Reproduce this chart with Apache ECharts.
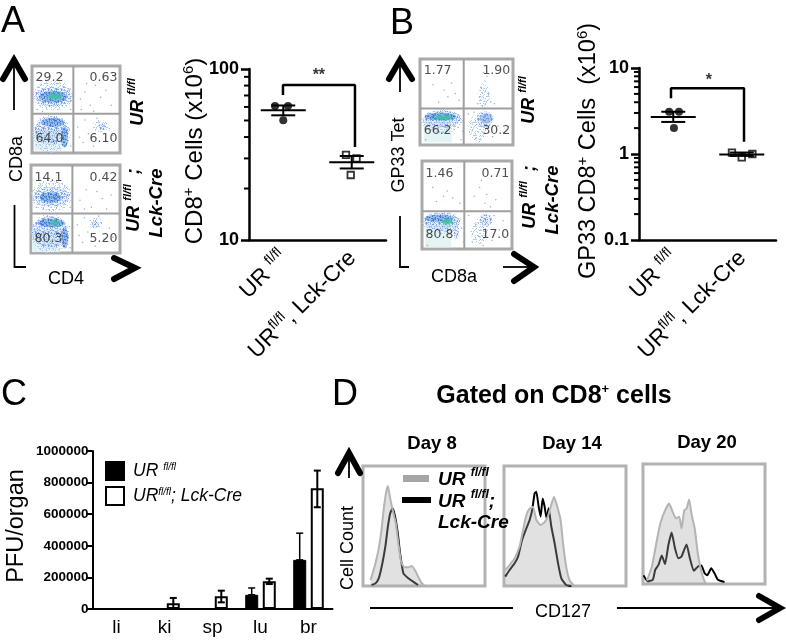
<!DOCTYPE html>
<html><head><meta charset="utf-8">
<style>html,body{margin:0;padding:0;background:#fff}#c{width:786px;height:640px}</style>
<script src="https://cdn.jsdelivr.net/npm/echarts@6/dist/echarts.min.js"></script>
</head><body><div id="c"></div>
<script>
// ---------- Panel A / B dot plots ----------
const genotypes = ['UR fl/fl', 'URfl/fl, Lck-Cre'];
const cd8Wt = [[0.38, 60.8], [0.57, 60.8], [0.5, 50.2]];
const cd8Ko = [[1.416, 31.5], [1.57, 30.0], [1.485, 24.0]];
const cd8Summary = [[0.5, 57.4, 53.6, 61.2], [1.5, 28.5, 26.2, 31.0]];
const cd8Bracket = [[0.496, 70.5], [0.496, 80.6], [1.547, 80.6], [1.547, 35]];
const cd8Ticks = [20, 30, 40, 50, 60, 70, 80, 90];
const gp33Wt = [[0.44, 3.1], [0.584, 3.1], [0.51, 2.0]];
const gp33Ko = [[1.357, 1.035], [1.5, 0.915], [1.655, 1.0]];
const gp33Summary = [[0.5, 2.7, 2.36, 3.1], [1.5, 0.99, 0.95, 1.04]];
const gp33Bracket = [[0.467, 4.44], [0.467, 5.8], [1.533, 5.8], [1.533, 1.39]];
const gp33Ticks = [0.2, 0.3, 0.4, 0.5, 0.6, 0.7, 0.8, 0.9, 2, 3, 4, 5, 6, 7, 8, 9];
// ---------- Panel C bars ----------
const organs = ['li', 'ki', 'sp', 'lu', 'br'];
const pfuWt = [0, 0, 0, 90000, 311000];
const pfuKo = [0, 36000, 80000, 175000, 764000];
const pfuWtErr = [[3, 90000, 133000], [4, 311000, 480000]];
const pfuKoErr = [[1, 0, 70000], [2, 42000, 116000], [3, 158000, 192000], [4, 644000, 876000]];
const pfuTicks = [0, 200000, 400000, 600000, 800000, 1000000];
// ---------- Panel D histograms ----------
const day8Wt = [[6.2,5],[7.5,9.2],[10.2,18.9],[12.9,31.4],[15,45.3],[16.9,63.3],[18.8,77.2],[20.4,83.3],[21.8,75.8],[23.7,66.1],[26.9,52.2],[29,35.6],[31.2,20.3],[33.9,15.6],[37.1,15.6],[39.8,16.7],[42.5,13.3],[45.2,7.8],[47.8,2.8],[50.5,0]];
const day8Ko = [[7,0.8],[10.2,2.2],[12.9,6.4],[15.6,17.5],[18.3,32.8],[20.4,49.4],[22.3,60.6],[24.2,64.7],[26.3,57.8],[28.5,44],[30.4,27.2],[33.1,10.6],[37.1,6.4],[41.1,3.6],[45.2,0.8]];
const day14Wt = [[1.1,13.3],[4.6,17.5],[8.7,23],[12.8,33],[15.6,46.7],[18.3,59],[21,64.4],[23.8,66.1],[26.5,55],[30,50.8],[33.3,53.3],[36,58],[38.3,66.1],[41,74.4],[43.7,66.1],[46.4,55],[48.4,35.6],[51,16],[53.7,5],[57.4,0]];
const day14Ko = [[1.1,7.8],[4.6,13.3],[8.7,18.9],[11.5,24.4],[14.8,38.3],[18.3,48],[21,55],[23.2,63.9],[25.1,77.2],[26.5,78.6],[28.4,66.1],[30,57.8],[31.7,73],[33.3,66.1],[34.9,56.4],[36.6,64.7],[38.8,49.4],[41.5,35.6],[44.3,18.9],[47,6.4],[51,0.8],[55.2,0]];
const day20Wt = [[3.2,2.8],[7.3,14.6],[11.9,39.4],[14.6,51.8],[18.1,61.4],[21.4,67],[24.9,58.7],[27,54.6],[29.7,56],[31.6,46.3],[33.8,61.4],[35.7,62.8],[37.8,70.5],[39.7,58.7],[42.4,46.3],[45.1,24.2],[47.8,10.5],[50.5,2.2],[52.4,0]];
const day20Ko = [[0.5,7.2],[3.8,2.2],[8.1,3.6],[10,11.8],[12.7,16],[15.4,23.7],[18.1,16.5],[20.8,32.5],[23.5,43],[26.2,29.8],[29,21.5],[31.6,22.9],[35.7,33],[38.4,21.5],[41.6,11],[45.1,14.6],[47.8,15.4],[50.5,9],[52.7,7.2],[55.9,13.2],[58.6,9],[61.4,3.6],[66.8,1.7]];
// ---------- Flow plots: populations [x, y, spreadX, spreadY, density]
// density: 0 pale gate patch, 1 scattered halo, 2 moderate, 3 dense, 4 peak
const flowA1Labels = ['29.2', '0.63', '64.0', '6.10'];
const flowA2Labels = ['14.1', '0.42', '80.3', '5.20'];
const flowB1Labels = ['1.77', '1.90', '66.2', '30.2'];
const flowB2Labels = ['1.46', '0.71', '80.8', '17.0'];
const flowA1Gate = [47, 45];
const flowA2Gate = [46.5, 45];
const flowB1Gate = [47, 42.5];
const flowB2Gate = [47, 43];
const flowA1Blobs = [[18,15,31,24,0],[24,66,46,34,1],[24,64.5,42,22,2],[24,64.5,32,13,3],[26,65,15,5,4],[22,22,44,44,1],[22,26,38,32,2],[24,35,26,10,3],[37,18,8,24,3],[78,31,18,14,1],[80,30,9,7,2]];
const flowA2Blobs = [[17,14,32,26,0],[23,65,46,36,1],[23,64,40,22,2],[22,63,24,12,3],[21,22,44,44,1],[21,24,40,36,2],[23,34,30,10,3],[27,34,11,4,4],[38,17,8,24,3],[73,34,16,12,1],[72,32,8,8,2]];
const flowB1Blobs = [[19,15,30,24,0],[24,28,44,28,1],[24,30,40,20,2],[22,33,34,9,3],[25.5,32,20,4,4],[71,31,13,12,3],[62,20,20,30,1],[70,30,18,18,2],[69,57,12,30,1]];
const flowB2Blobs = [[18,15,29,26,0],[22,30,44,26,1],[22,31,40,20,2],[19,35,32,8,3],[28,31,12,5,4],[38,20,6,18,2],[71,33,14,14,2],[64,20,20,28,1]];
const flowA1Dots = [[6,50],[10,78],[28,80],[36,76],[42,73],[44,60],[44,50],[12,48],[55,62],[60,70],[66,55],[72,78],[78,64],[84,72],[56,50],[90,55],[62,80],[70,48],[52,30],[58,12],[64,22],[70,8],[84,14],[88,28],[92,20],[74,40],[60,38],[54,18],[44,8],[42,28]];
const flowA2Dots = [[6,52],[10,76],[30,80],[38,76],[43,66],[44,52],[14,50],[55,60],[62,72],[68,52],[74,70],[80,62],[85,50],[60,50],[90,66],[52,32],[58,12],[64,24],[72,8],[82,16],[88,28],[92,18],[76,42],[60,40],[54,20],[44,6],[43,30]];
const flowB1Dots = [[20,50],[30,56],[38,60],[14,70],[42,52],[26,64],[34,72],[62,48],[66,66],[70,74],[72,80],[68,84],[74,60],[76,50],[64,56],[80,48],[60,8],[56,26],[64,4],[78,10],[84,22],[90,14],[46,16],[44,6],[6,6],[52,36],[58,38]];
const flowB2Dots = [[16,54],[24,60],[34,58],[42,52],[12,70],[28,66],[58,60],[64,70],[70,52],[72,62],[66,78],[76,48],[82,56],[56,8],[60,28],[64,14],[68,4],[78,10],[86,22],[92,14],[90,32],[46,8],[44,24],[6,4],[52,38],[80,38]];

const FF = 'Liberation Sans';
const grids = [], xAxes = [], yAxes = [], series = [];

// stipple tiles for the flow-cytometry dots
const speck = [[1,2],[4,0],[7,3],[10,1],[12,5],[2,6],[5,5],[8,7],[11,9],[0,9],[3,10],[6,9],[9,11],[12,12],[4,12]];
function tile(bg, layers) {
  const cv = document.createElement('canvas'); cv.width = cv.height = 13;
  const ctx = cv.getContext('2d');
  if (bg) { ctx.fillStyle = bg; ctx.fillRect(0, 0, 13, 13); }
  layers.forEach(l => {
    ctx.fillStyle = l[0];
    speck.forEach(p => ctx.fillRect((p[0] + l[1]) % 13, (p[1] + l[2]) % 13, 1, 1));
  });
  return { image: cv, repeat: 'repeat' };
}
const flowFill = [
  '#e4f4f5',
  tile(null, [['#a4bdf0', 0, 0], ['#c3d3f4', 3, 5], ['#b4c9f2', 8, 9]]),
  tile('rgba(190,212,245,0.35)', [['#8fb0ec', 0, 0], ['#a8c6f0', 3, 5], ['#6f96e2', 6, 2], ['#bcd3f3', 9, 8], ['#7ea4e8', 5, 11], ['#9dbdef', 11, 6]]),
  tile('rgba(95,140,225,0.55)', [['#3f74d6', 0, 0], ['#5d8fdf', 3, 5], ['#3f74d6', 6, 2], ['#7fb0e8', 9, 8], ['#4c86d8', 2, 10], ['#5aa0d8', 7, 6], ['#3f74d6', 11, 3], ['#4aa8c8', 4, 8]]),
  '#3fbfa4'
];

function addGrid(left, top, width, height, extra) {
  grids.push(Object.assign({ left, top, width, height, containLabel: false }, extra || {}));
  return grids.length - 1;
}
function flowPlot(box, blobs, dots, gate, labels) {
  const g = addGrid(box[0], box[1], box[2], box[3], { show: true, borderColor: '#a9a9a9', borderWidth: 3, backgroundColor: '#fff' });
  const axis = { gridIndex: g, type: 'value', min: 0, max: 100, show: false };
  const xi = xAxes.push(axis) - 1, yi = yAxes.push(Object.assign({}, axis)) - 1;
  const base = { xAxisIndex: xi, yAxisIndex: yi, silent: true, animation: false };
  series.push(Object.assign({}, base, {
    type: 'custom', z: 2, data: blobs,
    encode: { x: 0, y: 1 },
    renderItem(p, api) {
      const x = api.value(0), y = api.value(1), sx = api.value(2), sy = api.value(3), d = api.value(4);
      const c = api.coord([x, y]), e = api.coord([x + sx / 2, y + sy / 2]);
      const rx = e[0] - c[0], ry = c[1] - e[1];
      if (d === 0) return { type: 'rect', shape: { x: c[0] - rx, y: c[1] - ry, width: 2 * rx, height: 2 * ry }, style: { fill: flowFill[0] } };
      if (d === 4) return { type: 'ellipse', shape: { cx: c[0], cy: c[1], rx, ry }, style: { fill: flowFill[4], opacity: 0.85, shadowBlur: 4, shadowColor: flowFill[4] } };
      return { type: 'ellipse', shape: { cx: c[0], cy: c[1], rx, ry }, style: { fill: flowFill[d] } };
    }
  }));
  series.push(Object.assign({}, base, {
    type: 'scatter', z: 3, symbolSize: 1.5, itemStyle: { color: '#6f8fd8', opacity: 0.75 }, data: dots
  }));
  [[[gate[0], 0], [gate[0], 100]], [[0, gate[1]], [100, gate[1]]]].forEach(seg => {
    series.push(Object.assign({}, base, {
      type: 'line', z: 4, symbol: 'none', data: seg, lineStyle: { color: '#9f9f9f', width: 2 }
    }));
  });
  const pos = [[4, 86, 'right'], [97, 86, 'left'], [4, 16, 'right'], [97, 16, 'left']];
  series.push(Object.assign({}, base, {
    type: 'scatter', z: 5, symbolSize: 0,
    data: labels.map((t, i) => ({
      value: [pos[i][0], pos[i][1]],
      label: { show: true, formatter: t, position: pos[i][2], distance: 0, fontFamily: 'DejaVu Sans', fontSize: 12.5, color: '#222' }
    }))
  }));
}
const catRich = {
  a: { fontFamily: FF, fontSize: 22.5, color: '#000', lineHeight: 25, verticalAlign: 'bottom' },
  s: { fontFamily: FF, fontSize: 14, color: '#000', lineHeight: 25, verticalAlign: 'top' }
};
function dotPlot(box, yMin, yMax, wt, ko, summary, bracket, minor, star, starPos) {
  const g = addGrid(box[0], box[1], box[2], box[3]);
  const line = { lineStyle: { color: '#000', width: 2.5 } };
  const xCat = xAxes.push({
    gridIndex: g, type: 'category', data: genotypes,
    axisLine: Object.assign({ onZero: false }, line),
    axisTick: Object.assign({ alignWithLabel: true, length: 7 }, line),
    axisLabel: {
      rotate: 45, margin: 14, interval: 0, rich: catRich,
      formatter: v => v === genotypes[0] ? '{a|UR }{s|fl/fl}' : '{a|UR}{s|fl/fl}{a|, Lck-Cre}'
    }
  }) - 1;
  const xv = xAxes.push({ gridIndex: g, type: 'value', min: 0, max: 2, show: false }) - 1;
  const yi = yAxes.push({
    gridIndex: g, type: 'log', logBase: 10, min: yMin, max: yMax,
    axisLine: Object.assign({ onZero: false }, line),
    axisTick: Object.assign({ length: 8 }, line),
    splitLine: { show: false },
    axisLabel: { fontFamily: FF, fontWeight: 'bold', fontSize: 18, color: '#000', margin: 10 }
  }) - 1;
  const base = { xAxisIndex: xv, yAxisIndex: yi, silent: true, animation: false };
  series.push(Object.assign({}, base, {
    type: 'custom', z: 3, data: minor.map(v => [0, v]),
    renderItem(p, api) {
      const pt = api.coord([0, api.value(1)]);
      return { type: 'line', shape: { x1: pt[0] - 5, y1: pt[1], x2: pt[0], y2: pt[1] }, style: { stroke: '#000', lineWidth: 2 } };
    }
  }));
  series.push(Object.assign({}, base, {
    type: 'scatter', z: 4, symbol: 'circle', symbolSize: 8, itemStyle: { color: '#000' }, data: wt
  }));
  series.push(Object.assign({}, base, {
    type: 'scatter', z: 4, symbol: 'rect', symbolSize: 6.5, itemStyle: { color: '#fff', borderColor: '#000', borderWidth: 1.8 }, data: ko
  }));
  series.push(Object.assign({}, base, {
    type: 'custom', z: 5, data: summary,
    renderItem(p, api) {
      const x = api.value(0);
      const m = api.coord([x, api.value(1)]), lo = api.coord([x, api.value(2)]), hi = api.coord([x, api.value(3)]);
      const st = { stroke: '#000', lineWidth: 2, fill: null };
      const seg = (x1, y1, x2, y2) => ({ type: 'line', shape: { x1, y1, x2, y2 }, style: st });
      return { type: 'group', children: [
        seg(m[0] - 22.5, m[1], m[0] + 22.5, m[1]), seg(m[0], lo[1], m[0], hi[1]),
        seg(m[0] - 12, lo[1], m[0] + 12, lo[1]), seg(m[0] - 12, hi[1], m[0] + 12, hi[1])
      ]};
    }
  }));
  series.push(Object.assign({}, base, {
    type: 'line', z: 5, symbol: 'none', data: bracket, lineStyle: { color: '#000', width: 2.5 }
  }));
  series.push(Object.assign({}, base, {
    type: 'scatter', z: 5, symbolSize: 0,
    data: [{ value: starPos, label: { show: true, formatter: star, position: 'inside', fontFamily: FF, fontWeight: 'bold', fontSize: 16, color: '#000' } }]
  }));
}
function histPlot(box, wt, ko) {
  const g = addGrid(box[0], box[1], box[2], box[3], { show: true, borderColor: '#b2b2b2', borderWidth: 3 });
  const axis = { gridIndex: g, type: 'value', min: 0, max: 100, show: false };
  const xi = xAxes.push(axis) - 1, yi = yAxes.push(Object.assign({}, axis)) - 1;
  const base = { xAxisIndex: xi, yAxisIndex: yi, type: 'line', symbol: 'none', silent: true, animation: false, smooth: 0.15 };
  series.push(Object.assign({}, base, { z: 2, data: ko, lineStyle: { color: '#000', width: 2 } }));
  series.push(Object.assign({}, base, {
    z: 3, data: wt, lineStyle: { color: '#b4b4b4', width: 2 }, areaStyle: { color: '#a9a9a9', opacity: 0.35 }
  }));
}

// flow plots
flowPlot([32, 66, 88, 87], flowA1Blobs, flowA1Dots, flowA1Gate, flowA1Labels);
flowPlot([31, 165, 89, 88], flowA2Blobs, flowA2Dots, flowA2Gate, flowA2Labels);
flowPlot([420, 59, 93, 86], flowB1Blobs, flowB1Dots, flowB1Gate, flowB1Labels);
flowPlot([422, 161, 90, 88], flowB2Blobs, flowB2Dots, flowB2Gate, flowB2Labels);
// dot plots
dotPlot([249, 69, 137, 171], 10, 100, cd8Wt, cd8Ko, cd8Summary, cd8Bracket, cd8Ticks, '**', [1.02, 91]);
dotPlot([639, 68, 137, 172], 0.1, 10, gp33Wt, gp33Ko, gp33Summary, gp33Bracket, gp33Ticks, '*', [1.02, 7.2]);

// bars
const gc = addGrid(92.5, 451, 240, 158);
const xc = xAxes.push({
  gridIndex: gc, type: 'category', data: organs,
  axisLine: { lineStyle: { color: '#000', width: 2 } },
  axisTick: { alignWithLabel: true, length: 6, lineStyle: { color: '#000', width: 2 } },
  axisLabel: { fontFamily: FF, fontSize: 19, color: '#000', margin: 9, interval: 0 }
}) - 1;
const yc = yAxes.push({
  gridIndex: gc, type: 'value', min: pfuTicks[0], max: pfuTicks[5], interval: pfuTicks[1],
  axisLine: { show: true, lineStyle: { color: '#000', width: 2 } },
  axisTick: { show: true, length: 6, lineStyle: { color: '#000', width: 2 } },
  splitLine: { show: false },
  axisLabel: { fontFamily: FF, fontWeight: 'bold', fontSize: 13.5, color: '#000', margin: 4, formatter: v => String(v) }
}) - 1;
const nameWt = 'UR fl/fl', nameKo = 'URfl/fl; Lck-Cre';
series.push({ name: nameWt, type: 'bar', xAxisIndex: xc, yAxisIndex: yc, data: pfuWt, barWidth: 13, barGap: '35%', animation: false, itemStyle: { color: '#000', borderColor: '#000', borderWidth: 1 } });
series.push({ name: nameKo, type: 'bar', xAxisIndex: xc, yAxisIndex: yc, data: pfuKo, barWidth: 13, barGap: '35%', animation: false, itemStyle: { color: '#fff', borderColor: '#000', borderWidth: 2 } });
function errSeries(rows, off, lw) {
  series.push({
    type: 'custom', xAxisIndex: xc, yAxisIndex: yc, silent: true, animation: false, z: 5, data: rows,
    encode: { x: 0, y: [1, 2] },
    renderItem(p, api) {
      const lo = api.coord([api.value(0), api.value(1)]), hi = api.coord([api.value(0), api.value(2)]);
      const x = lo[0] + off, st = { stroke: '#000', lineWidth: lw };
      const seg = (x1, y1, x2, y2) => ({ type: 'line', shape: { x1, y1, x2, y2 }, style: st });
      return { type: 'group', children: [seg(x, lo[1], x, hi[1]), seg(x - 3.5, hi[1], x + 3.5, hi[1]), seg(x - 3.5, lo[1], x + 3.5, lo[1])] };
    }
  });
}
errSeries(pfuWtErr, -8.8, 1.5);
errSeries(pfuKoErr, 8.8, 2);

// histograms
histPlot([363, 466, 122, 120], day8Wt, day8Ko);
histPlot([504, 466, 122, 120], day14Wt, day14Ko);
histPlot([643, 464, 122, 120], day20Wt, day20Ko);

// free text and arrows
function itRich(size) {
  const lh = Math.round(size * 1.15), sm = Math.round(size * 0.62);
  const st = { fontFamily: FF, fontWeight: 'bold', fontStyle: 'italic', fill: '#000', lineHeight: lh };
  return { b: Object.assign({ fontSize: size, verticalAlign: 'bottom' }, st), s: Object.assign({ fontSize: sm, verticalAlign: 'top' }, st) };
}
const rich18 = itRich(18), rich19 = itRich(19);
function titleRich(size) {
  return {
    a: { fontFamily: FF, fontSize: size, fill: '#000', lineHeight: 26, verticalAlign: 'bottom' },
    s: { fontFamily: FF, fontSize: 15, fill: '#000', lineHeight: 26, verticalAlign: 'top' }
  };
}
function T(x, y, text, size, o) {
  o = o || {};
  return { type: 'text', x, y, rotation: o.rot ? Math.PI / 2 : 0, silent: true, z: 20,
    style: { text, fontFamily: FF, fontSize: size, fontWeight: o.bold ? 'bold' : 'normal', fontStyle: o.it ? 'italic' : 'normal',
      fill: '#000', align: o.align || 'center', verticalAlign: 'middle', rich: o.rich } };
}
function P(points, w, round) {
  return { type: 'polyline', shape: { points }, silent: true, z: 20, style: { stroke: '#000', lineWidth: w, fill: null, lineJoin: 'miter', lineCap: round ? 'round' : 'butt' } };
}
const graphic = [
  T(1, 22, 'A', 36, { align: 'left' }), T(390, 24, 'B', 36, { align: 'left' }),
  T(1, 395, 'C', 36, { align: 'left' }), T(332, 395, 'D', 36, { align: 'left' }),
  // A
  P([[3, 79], [14, 60], [25, 79]], 6, 1), P([[14, 62], [14, 110]], 1.8), P([[14.5, 205], [14.5, 267], [26, 267]], 1.8),
  P([[114, 258], [135, 268], [114, 279]], 6, 1),
  T(17, 159, 'CD8a', 18, { rot: 1 }), T(66, 279, 'CD4', 18),
  T(137, 102, '{b|UR }{s|fl/fl}', 18, { rot: 1, rich: rich18 }),
  T(133, 200, '{b|UR }{s|fl/fl}{b|  ;}', 18, { rot: 1, rich: rich18 }),
  T(157, 203, 'Lck-Cre', 18.5, { rot: 1, bold: 1, it: 1 }),
  T(194, 151, '{a|CD8}{s|+}{a| Cells (x10}{s|6}{a|)}', 24, { rot: 1, rich: titleRich(24) }),
  // B
  P([[389, 79], [400, 60], [412, 79]], 6, 1), P([[400, 62], [400, 92]], 1.8), P([[400, 216], [400, 267], [409, 267]], 1.8),
  P([[503, 267], [533, 267]], 1.8), P([[514, 254], [534, 267], [514, 281]], 6, 1),
  T(399, 155, 'GP33 Tet', 18, { rot: 1 }), T(454, 277, 'CD8a', 18),
  T(528, 100, '{b|UR }{s|fl/fl}', 18, { rot: 1, rich: rich18 }),
  T(529, 197, '{b|UR }{s|fl/fl}{b|  ;}', 18, { rot: 1, rich: rich18 }),
  T(553, 200, 'Lck-Cre', 18.5, { rot: 1, bold: 1, it: 1 }),
  T(588, 151, '{a|GP33 CD8}{s|+}{a| Cells  (x10}{s|6}{a|)}', 23.5, { rot: 1, rich: titleRich(23.5) }),
  // C
  T(17, 526, 'PFU/organ', 23.5, { rot: 1 }),
  // D
  T(554, 396, '{t|Gated on CD8}{u|+}{t| cells}', 25, { rich: {
    t: { fontFamily: FF, fontWeight: 'bold', fontSize: 25, fill: '#000', lineHeight: 26, verticalAlign: 'bottom' },
    u: { fontFamily: FF, fontWeight: 'bold', fontSize: 13, fill: '#000', lineHeight: 26, verticalAlign: 'top' } } }),
  T(432, 444, 'Day 8', 18.5, { bold: 1 }), T(572, 444, 'Day 14', 18.5, { bold: 1 }), T(707, 443, 'Day 20', 18.5, { bold: 1 }),
  T(348, 548, 'Cell Count', 18, { rot: 1 }), T(563, 612, 'CD127', 18),
  P([[338, 473], [349, 453], [360, 473]], 6, 1), P([[349, 456], [349, 478]], 1.8),
  P([[370, 608], [513, 608]], 1.8), P([[617, 608], [778, 608]], 1.8), P([[759, 596], [780, 608], [759, 620]], 6, 1),
  { type: 'rect', shape: { x: 403, y: 475, width: 26, height: 7 }, style: { fill: '#a5a5a5' }, z: 20, silent: true },
  { type: 'rect', shape: { x: 402, y: 497, width: 29, height: 6 }, style: { fill: '#000' }, z: 20, silent: true },
  T(438, 478, '{b|UR }{s|fl/fl}', 19, { align: 'left', rich: rich19 }),
  T(438, 500, '{b|UR }{s|fl/fl}{b|;}', 19, { align: 'left', rich: rich19 }),
  T(438, 523, 'Lck-Cre', 19, { align: 'left', bold: 1, it: 1 })
];

const chart = echarts.init(document.getElementById('c'), null, { renderer: 'canvas' });
chart.setOption({
  animation: false, backgroundColor: '#fff',
  grid: grids, xAxis: xAxes, yAxis: yAxes, series,
  legend: {
    data: [nameWt, nameKo], left: 105, top: 461, padding: 0, orient: 'vertical', itemWidth: 18, itemHeight: 18, itemGap: 5, selectedMode: false,
    icon: 'rect', itemStyle: { borderWidth: 2 },
    formatter: n => n === nameWt ? '{g|}{b|UR }{s|fl/fl}' : '{g|}{b|UR}{s|fl/fl}{b|; Lck-Cre}',
    textStyle: { rich: {
      g: { width: 4 },
      b: { fontFamily: FF, fontStyle: 'italic', fontSize: 17.5, color: '#000', lineHeight: 18, verticalAlign: 'bottom' },
      s: { fontFamily: FF, fontStyle: 'italic', fontSize: 10, color: '#000', lineHeight: 18, verticalAlign: 'top' } } }
  },
  graphic
});
</script></body></html>
